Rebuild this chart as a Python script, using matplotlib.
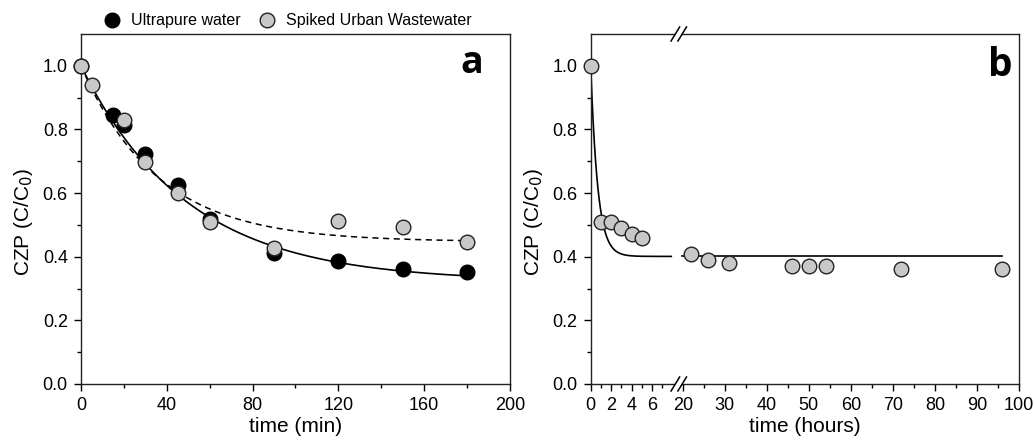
import numpy as np
import matplotlib.pyplot as plt
from matplotlib.lines import Line2D

plt.rcParams['font.family'] = ['Liberation Sans', 'DejaVu Sans']

# panel a: time in minutes
t_a_uw = [0, 15, 20, 30, 45, 60, 90, 120, 150, 180]
c_a_uw = [1.0, 0.845, 0.813, 0.722, 0.627, 0.52, 0.413, 0.388, 0.363, 0.351]
t_a_sw = [0, 5, 20, 30, 45, 60, 90, 120, 150, 180]
c_a_sw = [1.0, 0.94, 0.829, 0.697, 0.601, 0.509, 0.426, 0.511, 0.493, 0.447]

# panel b: time in hours (spiked urban wastewater)
t_b = [0, 1, 2, 3, 4, 5, 22, 26, 31, 46, 50, 54, 72, 96]
c_b = [1.0, 0.51, 0.51, 0.49, 0.47, 0.46, 0.41, 0.39, 0.38, 0.37, 0.37, 0.37, 0.36, 0.36]

# first-order fits C = Cinf + (1 - Cinf) exp(-k t)
fit_a_uw = (0.322, 0.0202)
fit_a_sw = (0.447, 0.028)
fit_b = (0.401, 1.45)

gray = '#c8c8c8'
ms = 10.5


def model(t, p):
    cinf, k = p
    return cinf + (1 - cinf) * np.exp(-k * t)


def style_axes(ax):
    ax.set_ylim(0, 1.1)
    ax.set_yticks(np.arange(0, 1.01, 0.2))
    ax.set_yticks(np.arange(0.1, 1.1, 0.2), minor=True)
    ax.set_yticklabels(['0.0', '0.2', '0.4', '0.6', '0.8', '1.0'])
    ax.tick_params(which='major', direction='out', length=5, width=1, labelsize=13,
                   colors='black', pad=4.5)
    ax.tick_params(which='minor', direction='out', length=3, width=1)
    for s in ax.spines.values():
        s.set_linewidth(1)
        s.set_color('#222222')
    ax.set_ylabel('CZP (C/C$_0$)', fontsize=15)
    ax.yaxis.set_label_coords(-46 / 429, 0.463)


fig = plt.figure(figsize=(10.35, 4.41), dpi=100)
axa = fig.add_axes([81 / 1035, 57 / 441, 429 / 1035, 350 / 441])
axb = fig.add_axes([590.7 / 1035, 57 / 441, 428.3 / 1035, 350 / 441])

# ---- panel a
tt = np.linspace(0, 180, 300)
axa.plot(tt, model(tt, fit_a_uw), 'k-', lw=1.2, zorder=2)
axa.plot(tt, model(tt, fit_a_sw), 'k--', lw=1.1, dashes=(4, 3), zorder=2)
axa.plot(t_a_uw, c_a_uw, 'o', ms=ms, mfc='black', mec='black', mew=1, zorder=3, clip_on=False)
axa.plot(t_a_sw, c_a_sw, 'o', ms=ms, mfc=gray, mec='#222222', mew=1, zorder=4, clip_on=False)
axa.set_xlim(0, 200)
axa.set_xticks(np.arange(0, 201, 40))
axa.set_xticks(np.arange(20, 200, 40), minor=True)
axa.set_xlabel('time (min)', fontsize=15, labelpad=2)
style_axes(axa)
axa.text(0.937, 0.889, 'a', transform=axa.transAxes, ha='right', va='baseline',
         fontsize=27, fontweight='bold', family=['Open Sans', 'DejaVu Sans'])

# ---- panel b: broken x axis via piecewise scale
brk_t = [0, 8, 20, 100]
brk_u = [0, 81.6, 92, 428.3]


def fwd(x):
    return np.interp(x, brk_t, brk_u)


def inv(u):
    return np.interp(u, brk_u, brk_t)


axb.set_xscale('function', functions=(fwd, inv))
t1 = np.linspace(0, 7.9, 200)
t2 = np.linspace(19.5, 96, 200)
axb.plot(t1, model(t1, fit_b), 'k-', lw=1.2, zorder=2)
axb.plot(t2, model(t2, fit_b), 'k-', lw=1.2, zorder=2)
axb.plot(t_b, c_b, 'o', ms=ms, mfc=gray, mec='#222222', mew=1, zorder=4, clip_on=False)
axb.set_xlim(0, 100)
major_b = [0, 2, 4, 6, 20, 30, 40, 50, 60, 70, 80, 90, 100]
minor_b = [1, 3, 5, 7, 25, 35, 45, 55, 65, 75, 85, 95]
axb.set_xticks(major_b)
axb.set_xticklabels([str(v) for v in major_b])
axb.set_xticks(minor_b, minor=True)
axb.set_xlabel('time (hours)', fontsize=15, labelpad=2)
style_axes(axb)
axb.text(0.984, 0.88, 'b', transform=axb.transAxes, ha='right', va='baseline',
         fontsize=28, fontweight='bold', family=['Open Sans', 'DejaVu Sans'])

# break marks on top and bottom spines
xb = 85.5 / 428.3
h = 0.02
w = 0.02
for yb in (0.0, 1.0):
    gap = plt.Polygon([[xb - 0.012, yb - h], [xb - 0.012 + w, yb + h],
                       [xb + 0.004 + w, yb + h], [xb + 0.004, yb - h]],
                      closed=True, transform=axb.transAxes, fc='white', ec='none',
                      clip_on=False, zorder=5)
    axb.add_patch(gap)
    for dx in (-0.012, 0.004):
        axb.plot([xb + dx, xb + dx + w], [yb - h, yb + h], color='black',
                 lw=1.1, transform=axb.transAxes, clip_on=False, zorder=6)

# legend
handles = [Line2D([], [], ls='none', marker='o', ms=ms, mfc='black', mec='black'),
           Line2D([], [], ls='none', marker='o', ms=ms, mfc=gray, mec='#222222')]
fig.legend(handles, ['Ultrapure water', 'Spiked Urban Wastewater'], ncol=2, frameon=False,
           loc='center', bbox_to_anchor=(287 / 1035, 1 - 21 / 441), fontsize=11.5,
           handletextpad=0.6, columnspacing=1.0, handlelength=1.2, borderaxespad=0)

fig.savefig('out.png', dpi=100)
